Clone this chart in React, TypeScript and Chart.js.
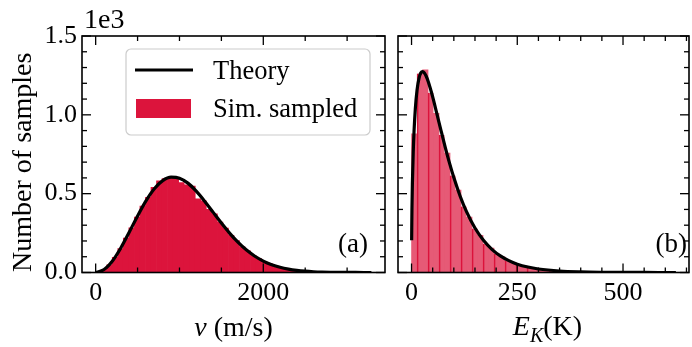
import React, { useEffect, useRef } from "react";
import { Chart, registerables } from "chart.js";

Chart.register(...registerables);

const W = 692;
const H = 347;
const SERIF = '"Liberation Serif", "Times New Roman", Times, serif';
const CRIMSON = "#DC143C";

// ---------- Panel (a): speed distribution ----------
const speedBinStart = 0;
const speedBinWidth = 66;
const speedCounts = [
  2, 19, 49, 97, 151, 219, 283, 352, 421, 476,
  540, 582, 596, 600, 598, 570, 556, 548, 468, 455,
  400, 372, 320, 282, 236, 203, 163, 137, 107, 89,
  67, 55, 40, 32, 22, 18, 12, 10, 6, 5,
  3, 2, 2, 1, 1, 0, 1, 0, 0, 1,
];
const speedTheoryV = [
  0, 100, 200, 300, 400, 500, 600, 700, 800, 900, 1000, 1100, 1200, 1300, 1400,
  1500, 1600, 1700, 1800, 1900, 2000, 2100, 2200, 2300, 2400, 2500, 2600, 2700,
  2800, 2900, 3000, 3100, 3200, 3290,
];
const speedTheoryN = [
  0, 19.0, 73.3, 155.7, 255.1, 358.8, 454.5, 531.6, 582.9, 605.0, 598.5, 566.9,
  515.9, 452.4, 382.9, 313.4, 248.4, 190.9, 142.3, 103.0, 72.4, 49.5, 32.9, 21.3,
  13.4, 8.2, 4.9, 2.8, 1.6, 0.9, 0.5, 0.2, 0.1, 0.05,
];
const speedMajorTicks = [0, 2000];
const speedMinorTicks = [500, 1000, 1500, 2500, 3000];
const speedMin = -163;
const speedMax = 3452;

// ---------- Panel (b): kinetic energy distribution ----------
const energyBinStart = 0;
const energyBinWidth = 13;
const energyCounts = [
  880, 1262, 1285, 1140, 1010, 872, 758, 615, 522, 419,
  352, 279, 236, 183, 155, 118, 99, 76, 65, 48,
  41, 30, 26, 19, 17, 12, 10, 8, 6, 5,
  4, 3, 3, 2, 2, 1, 1, 1, 1, 0,
  1, 0, 0, 0, 0, 1, 0, 0,
];
const energyTheoryE = [
  0.25, 1, 2, 4, 6, 9, 13, 18, 22, 26, 30, 35, 40, 50, 60, 70, 80, 90, 100, 115,
  130, 150, 170, 190, 210, 230, 250, 275, 300, 350, 400, 450, 500, 550, 625,
];
const energyTheoryN = [
  205, 404, 561, 763, 899, 1039, 1157, 1236, 1266, 1274, 1267, 1243, 1207, 1114,
  1006, 897, 791, 692, 602, 484, 386, 282, 204, 147, 105, 75, 53, 34.5, 22.3, 9.2,
  3.8, 1.5, 0.6, 0.25, 0.05,
];
const energyMajorTicks = [0, 250, 500];
const energyMinorTicks = [50, 100, 150, 200, 300, 350, 400, 450, 550, 600, 650];
const energyMin = -32;
const energyMax = 656;

// ---------- Shared count axis ----------
const countMajorTicks = [0, 500, 1000, 1500];
const countMinorTicks = [100, 200, 300, 400, 600, 700, 800, 900, 1100, 1200, 1300, 1400];
const countMin = 0;
const countMax = 1500;

const legendLabels = ["Theory", "Sim. sampled"];
const yTitle = "Number of samples";
const offsetText = "1e3";

// ---------- layout ----------
const PLOT_TOP = 36;
const PLOT_BOTTOM = 272.5;
const A_LEFT = 82;
const A_RIGHT = 385;
const B_LEFT = 398;
const B_RIGHT = 689;

function framePlugin(xMajor: number[], xMinor: number[]) {
  return {
    id: "frameTicks",
    afterDatasetsDraw(chart: any) {
      const { ctx, chartArea: a, scales } = chart;
      const x = scales.x;
      const y = scales.y;
      ctx.save();
      ctx.strokeStyle = "#000";
      ctx.lineWidth = 1.3;
      const seg = (x1: number, y1: number, x2: number, y2: number) => {
        ctx.beginPath();
        ctx.moveTo(x1, y1);
        ctx.lineTo(x2, y2);
        ctx.stroke();
      };
      const xt = (vals: number[], len: number) =>
        vals.forEach((v) => {
          const p = x.getPixelForValue(v);
          if (p < a.left - 0.5 || p > a.right + 0.5) return;
          seg(p, a.bottom, p, a.bottom - len);
          seg(p, a.top, p, a.top + len);
        });
      const yt = (vals: number[], len: number) =>
        vals.forEach((v) => {
          const p = y.getPixelForValue(v);
          if (p < a.top - 0.5 || p > a.bottom + 0.5) return;
          seg(a.left, p, a.left + len, p);
          seg(a.right, p, a.right - len, p);
        });
      xt(xMajor, 9);
      xt(xMinor, 5);
      yt(countMajorTicks, 9);
      yt(countMinorTicks, 5);
      ctx.lineWidth = 1.6;
      ctx.strokeRect(a.left, a.top, a.right - a.left, a.bottom - a.top);
      ctx.restore();
    },
  };
}

function drawPieces(
  ctx: CanvasRenderingContext2D,
  pieces: { text: string; font: string; dy?: number }[],
  cx: number,
  baseline: number
) {
  let total = 0;
  pieces.forEach((p) => {
    ctx.font = p.font;
    total += ctx.measureText(p.text).width;
  });
  let xPos = cx - total / 2;
  ctx.textAlign = "left";
  ctx.textBaseline = "alphabetic";
  pieces.forEach((p) => {
    ctx.font = p.font;
    ctx.fillText(p.text, xPos, baseline + (p.dy || 0));
    xPos += ctx.measureText(p.text).width;
  });
}

const textPluginA = {
  id: "textA",
  afterDraw(chart: any) {
    const { ctx, chartArea: a } = chart;
    ctx.save();
    ctx.fillStyle = "#000";
    // y title
    ctx.font = `28px ${SERIF}`;
    ctx.textAlign = "center";
    ctx.textBaseline = "alphabetic";
    ctx.translate(31, (a.top + a.bottom) / 2 + 8);
    ctx.rotate(-Math.PI / 2);
    ctx.fillText(yTitle, 0, 0);
    ctx.setTransform(1, 0, 0, 1, 0, 0);
    // offset text
    ctx.textAlign = "left";
    ctx.fillText(offsetText, a.left + 2, 27.5);
    // x title
    drawPieces(
      ctx,
      [
        { text: "v", font: `italic 28px ${SERIF}` },
        { text: " (m/s)", font: `28px ${SERIF}` },
      ],
      (a.left + a.right) / 2,
      336
    );
    // panel label
    ctx.font = `27px ${SERIF}`;
    ctx.textAlign = "right";
    ctx.textBaseline = "alphabetic";
    ctx.fillText("(a)", a.right - 17, 251.5);
    // legend
    const lx = a.left + 44;
    const ly = a.top + 13;
    const lw = 244;
    const lh = 86;
    ctx.beginPath();
    (ctx as any).roundRect(lx, ly, lw, lh, 5);
    ctx.fillStyle = "rgba(255,255,255,0.8)";
    ctx.fill();
    ctx.strokeStyle = "#cccccc";
    ctx.lineWidth = 1.2;
    ctx.stroke();
    ctx.strokeStyle = "#000";
    ctx.lineWidth = 3.2;
    ctx.beginPath();
    ctx.moveTo(lx + 9, ly + 21);
    ctx.lineTo(lx + 67, ly + 21);
    ctx.stroke();
    ctx.fillStyle = CRIMSON;
    ctx.fillRect(lx + 10, ly + 50, 55, 19);
    ctx.fillStyle = "#000";
    ctx.font = `26.5px ${SERIF}`;
    ctx.textAlign = "left";
    ctx.textBaseline = "alphabetic";
    ctx.fillText(legendLabels[0], lx + 87, ly + 30);
    ctx.fillText(legendLabels[1], lx + 87, ly + 68);
    ctx.restore();
  },
};

const textPluginB = {
  id: "textB",
  afterDraw(chart: any) {
    const { ctx, chartArea: a } = chart;
    ctx.save();
    ctx.fillStyle = "#000";
    drawPieces(
      ctx,
      [
        { text: "E", font: `italic 28px ${SERIF}` },
        { text: "K", font: `italic 20px ${SERIF}`, dy: 6.5 },
        { text: "(K)", font: `28px ${SERIF}` },
      ],
      (a.left + a.right) / 2 + 4,
      335
    );
    ctx.font = `27px ${SERIF}`;
    ctx.textAlign = "right";
    ctx.textBaseline = "alphabetic";
    ctx.fillText("(b)", a.right - 2, 251.5);
    ctx.restore();
  },
};

const tickFont = { family: SERIF, size: 26 };

function xScale(min: number, max: number, major: number[]) {
  return {
    type: "linear",
    min,
    max,
    offset: false,
    grid: { display: false, drawTicks: false },
    border: { display: false },
    ticks: {
      font: tickFont,
      color: "#000",
      padding: 5,
      maxRotation: 0,
      autoSkip: false,
      callback: (v: any) => String(v),
    },
    afterBuildTicks: (s: any) => {
      s.ticks = major.map((v) => ({ value: v }));
    },
    afterFit: (s: any) => {
      s.height = H - PLOT_BOTTOM;
    },
  };
}

export default function App() {
  const refA = useRef<HTMLCanvasElement>(null);
  const refB = useRef<HTMLCanvasElement>(null);

  useEffect(() => {
    document.body.style.margin = "0";
    const speedBars = speedCounts.map((c, i) => ({
      x: speedBinStart + speedBinWidth * (i + 0.5),
      y: c,
    }));
    const speedLine = speedTheoryV.map((v, i) => ({ x: v, y: speedTheoryN[i] }));
    const energyBars = energyCounts.map((c, i) => ({
      x: energyBinStart + energyBinWidth * (i + 0.5),
      y: c,
    }));
    const energyLine = energyTheoryE.map((e, i) => ({ x: e, y: energyTheoryN[i] }));

    const chartA = new Chart(refA.current as HTMLCanvasElement, {
      type: "bar",
      data: {
        datasets: [
          {
            type: "line",
            label: legendLabels[0],
            data: speedLine,
            borderColor: "#000",
            borderWidth: 3.2,
            pointRadius: 0,
            cubicInterpolationMode: "monotone",
            fill: false,
            order: 0,
          } as any,
          {
            type: "bar",
            label: legendLabels[1],
            data: speedBars,
            backgroundColor: CRIMSON,
            borderWidth: 0,
            barPercentage: 1,
            categoryPercentage: 1,
            grouped: false,
            order: 1,
          } as any,
        ],
      },
      options: {
        responsive: false,
        animation: false,
        devicePixelRatio: 1,
        layout: { padding: { left: 0, right: W - A_RIGHT, top: PLOT_TOP, bottom: 0 } },
        plugins: { legend: { display: false }, tooltip: { enabled: false } },
        scales: {
          x: xScale(speedMin, speedMax, speedMajorTicks) as any,
          y: {
            type: "linear",
            min: countMin,
            max: countMax,
            grid: { display: false, drawTicks: false },
            border: { display: false },
            ticks: {
              font: tickFont,
              color: "#000",
              padding: 5,
              callback: (v: any) => (Number(v) / 1000).toFixed(1),
            },
            afterBuildTicks: (s: any) => {
              s.ticks = countMajorTicks.map((v) => ({ value: v }));
            },
            afterFit: (s: any) => {
              s.width = A_LEFT;
            },
          } as any,
        },
      },
      plugins: [framePlugin(speedMajorTicks, speedMinorTicks), textPluginA],
    } as any);

    const chartB = new Chart(refB.current as HTMLCanvasElement, {
      type: "bar",
      data: {
        datasets: [
          {
            type: "line",
            label: legendLabels[0],
            data: energyLine,
            borderColor: "#000",
            borderWidth: 3.2,
            pointRadius: 0,
            cubicInterpolationMode: "monotone",
            fill: false,
            order: 0,
          } as any,
          {
            type: "bar",
            label: legendLabels[1],
            data: energyBars,
            backgroundColor: "rgba(220,20,60,0.7)",
            borderColor: CRIMSON,
            borderWidth: (c: any) =>
              c.dataIndex % 2 === 1 ? { left: 1, right: 0, top: 0, bottom: 0 } : 0,
            barPercentage: 1,
            categoryPercentage: 1,
            grouped: false,
            order: 1,
          } as any,
        ],
      },
      options: {
        responsive: false,
        animation: false,
        devicePixelRatio: 1,
        layout: { padding: { left: B_LEFT, right: W - B_RIGHT, top: PLOT_TOP, bottom: 0 } },
        plugins: { legend: { display: false }, tooltip: { enabled: false } },
        scales: {
          x: xScale(energyMin, energyMax, energyMajorTicks) as any,
          y: {
            type: "linear",
            display: false,
            min: countMin,
            max: countMax,
          } as any,
        },
      },
      plugins: [framePlugin(energyMajorTicks, energyMinorTicks), textPluginB],
    } as any);

    return () => {
      chartA.destroy();
      chartB.destroy();
    };
  }, []);

  return (
    <div style={{ position: "fixed", left: 0, top: 0, width: W, height: H, background: "#fff" }}>
      <canvas ref={refA} width={W} height={H} style={{ position: "absolute", left: 0, top: 0 }} />
      <canvas ref={refB} width={W} height={H} style={{ position: "absolute", left: 0, top: 0 }} />
    </div>
  );
}
